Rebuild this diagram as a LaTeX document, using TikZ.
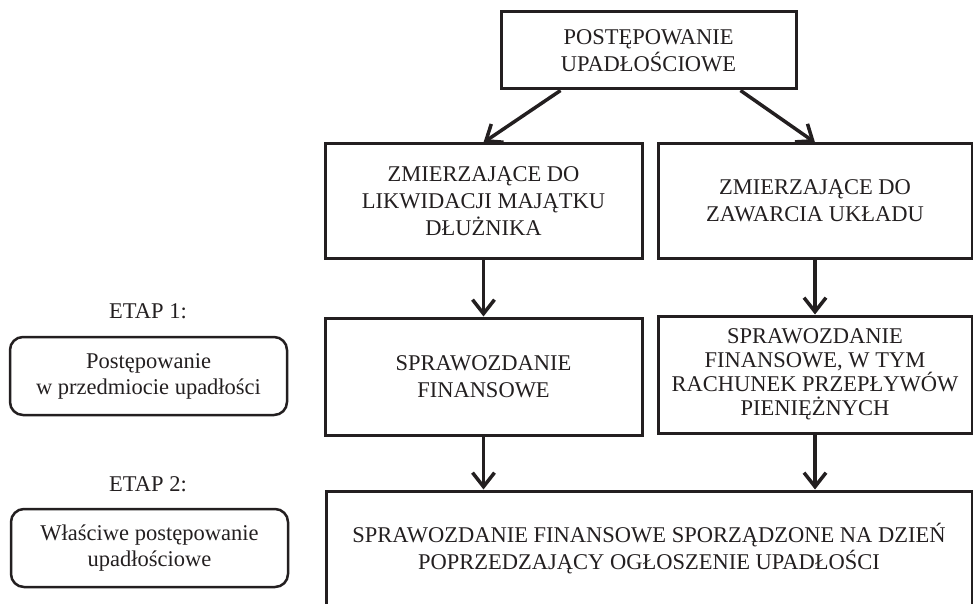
\documentclass[tikz,border=0pt]{standalone}
\usepackage{fontspec}
\setmainfont{Liberation Serif}
\usetikzlibrary{arrows.meta}
\definecolor{ink}{RGB}{35,31,32}

\begin{document}
\begin{tikzpicture}[x=1pt,y=-1pt,color=ink,
		box/.style={draw,line width=3pt,inner sep=0pt,align=center,font=\fontsize{22.5}{27}\selectfont},
		stage/.style={draw,line width=2.5pt,rounded corners=13pt,inner sep=0pt,align=center,minimum width=277pt,minimum height=78pt,font=\fontsize{22.5}{26}\selectfont},
		label/.style={inner sep=0pt,font=\fontsize{22.5}{26}\selectfont},
		arr/.style={line width=3.5pt,-{Straight Barb[length=14pt,width=22pt]}}]
		\clip(0,0)rectangle(973,604);
		% main chain
		\node[box,minimum width=295pt,minimum height=77pt](top)at(648.5,50.5){POSTĘPOWANIE\\UPADŁOŚCIOWE};
		\node[box,minimum width=317pt,minimum height=114pt](liq)at(483.5,201){ZMIERZAJĄCE DO\\LIKWIDACJI MAJĄTKU\\DŁUŻNIKA};
		\node[box,minimum width=314pt,minimum height=114pt](arr)at(815,201){ZMIERZAJĄCE DO\\ZAWARCIA UKŁADU};
		\node[box,minimum width=317pt,minimum height=117pt](liqrep)at(483.5,376.5){SPRAWOZDANIE\\FINANSOWE};
		\node[box,minimum width=314pt,minimum height=117pt,font=\fontsize{22.5}{24}\selectfont](arrrep)at(815,374.5){SPRAWOZDANIE\\FINANSOWE, W TYM\\RACHUNEK PRZEPŁYWÓW\\PIENIĘŻNYCH};
		\node[box,minimum width=646pt,minimum height=116pt](final)at(649,549){SPRAWOZDANIE FINANSOWE SPORZĄDZONE NA DZIEŃ\\POPRZEDZAJĄCY OGŁOSZENIE UPADŁOŚCI};
		\draw[arr]([xshift=-88pt]top.south)--(liq.north);
		\draw[arr]([xshift=92pt]top.south)--(arr.north);
		\draw[arr](liq.south)--(liqrep.north);
		\draw[arr](arr.south)--(arrrep.north);
		\draw[arr](liqrep.south)--(liqrep.south|-final.north);
		\draw[arr](arrrep.south)--(arrrep.south|-final.north);
		% stages
		\node[label](etap1)at(148,311){ETAP 1:};
		\node[stage](st1)at(148.5,376){Postępowanie\\w przedmiocie upadłości};
		\node[label](etap2)at(148,484){ETAP 2:};
		\node[stage](st2)at(149.5,548){Właściwe postępowanie\\upadłościowe};
	\end{tikzpicture}
\end{document}
